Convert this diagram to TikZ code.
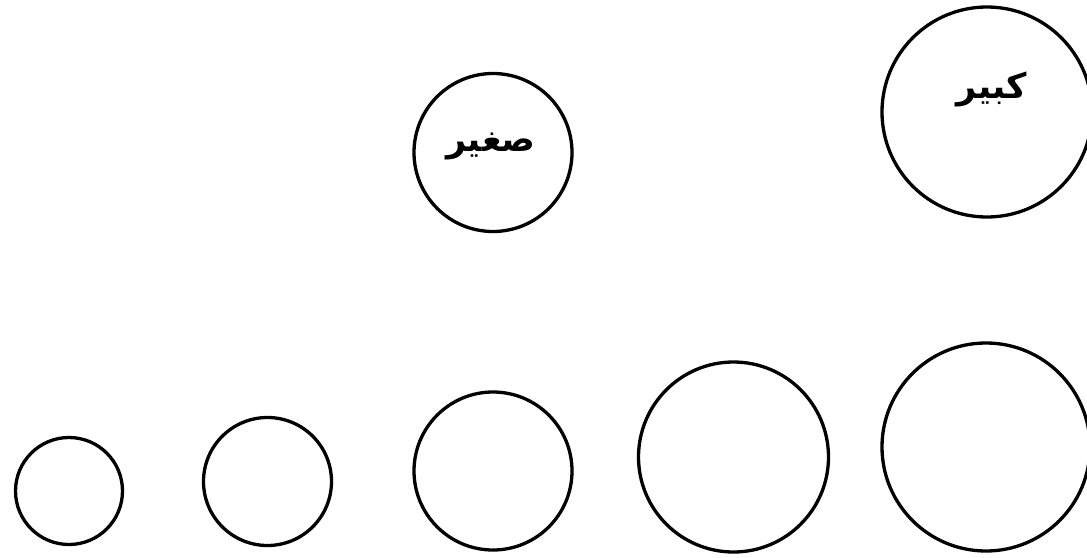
\documentclass[tikz,border=0pt]{standalone}
\usepackage{fontspec}
\newfontfamily\arabicfont[Script=Arabic]{DejaVu Sans}
\TeXXeTstate=1
\tikzset{
  ring/.style={draw=black, line width=3.3pt, circle, inner sep=0pt, minimum size=#1},
  word/.style={inner sep=0pt, font=\arabicfont\bfseries\fontsize{35}{40}\selectfont}
}
\begin{document}
\begin{tikzpicture}[x=1pt,y=-1pt]
\useasboundingbox (0,0) rectangle (1087,557);
\node[ring=158pt] (small) at (493,152.5) {};
\node[ring=210pt] (big) at (987,112) {};
\node[word] (smalltext) at (491,146) {\beginR صغير\endR};
\node[word] (bigtext) at (992,89) {\beginR كبير\endR};
\node[ring=107pt] (c1) at (69,491) {};
\node[ring=128pt] (c2) at (267.5,481.5) {};
\node[ring=158pt] (c3) at (493,471) {};
\node[ring=190pt] (c4) at (733.5,457) {};
\node[ring=208pt] (c5) at (986,447) {};
\end{tikzpicture}
\end{document}
